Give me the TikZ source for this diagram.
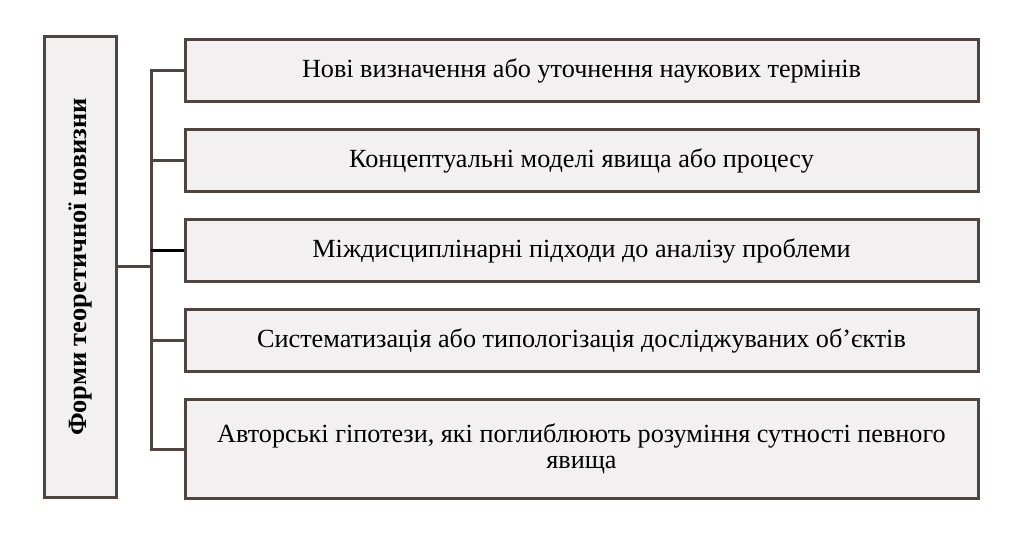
\documentclass[tikz,border=0pt]{standalone}
\usepackage{fontspec}
\setmainfont{Liberation Serif}
\usepackage{tikz,graphicx}
\usetikzlibrary{positioning}
\definecolor{brd}{RGB}{80,68,62}
\definecolor{fil}{RGB}{242,240,240}
\tikzstyle{form} = [rectangle, minimum width=396.5pt, minimum height=31pt, inner sep=0pt, text centered, draw=brd, fill=fil, line width=1.5pt, font=\fontsize{13.1}{13}\selectfont]
\tikzstyle{head} = [rectangle, minimum width=36pt, minimum height=230.5pt, inner sep=0pt, draw=brd, fill=fil, line width=1.5pt, font=\fontsize{13.2}{14}\selectfont\bfseries]
\tikzstyle{lin} = [line width=1.5pt, draw=brd]

\begin{document}
\begin{tikzpicture}[x=0.5pt, y=-0.5pt, node distance=12.5pt]

  \useasboundingbox (0,0) rectangle (1024,535);

  \node (forms) [head] at (80.5,267) {\rotatebox{90}{Форми теоретичної новизни}};

  \node (f1) [form] at (581.5,70.5) {Нові визначення або уточнення наукових термінів};
  \node (f2) [form, below=of f1] {Концептуальні моделі явища або процесу};
  \node (f3) [form, below=of f2] {Міждисциплінарні підходи до аналізу проблеми};
  \node (f4) [form, below=of f3] {Систематизація або типологізація досліджуваних об’єктів};
  \node (f5) [form, below=of f4, minimum height=49.5pt, align=center]
    {Авторські гіпотези, які поглиблюють розуміння сутності певного\\явища};

  \coordinate (trunk) at (151,0);

  \draw [lin] (f1.west) -- (f1.west -| trunk) -- (f5.west -| trunk) -- (f5.west);
  \draw [lin] (f2.west) -- (f2.west -| trunk);
  \draw [line width=1.5pt] (f3.west) -- (f3.west -| trunk);
  \draw [lin] (f4.west) -- (f4.west -| trunk);
  \draw [lin] (forms.east) -- (forms.east -| trunk);

\end{tikzpicture}
\end{document}
